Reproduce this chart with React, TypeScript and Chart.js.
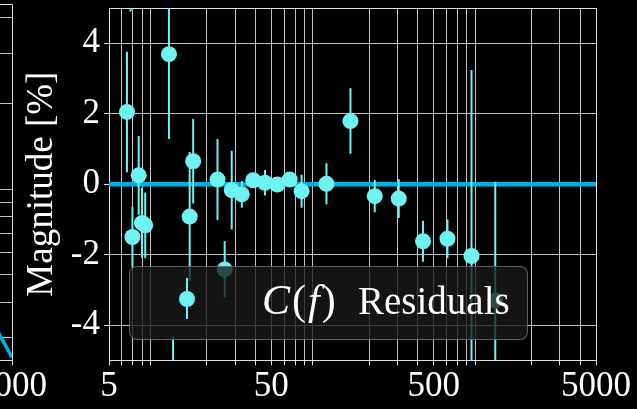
import React, { useEffect, useRef } from 'react';
import { Chart, registerables } from 'chart.js';

Chart.register(...registerables);

// ---------- data (main panel: residuals) ----------
const frequencies = [6.45, 6.78, 6.97, 7.62, 7.98, 8.36, 11.7, 12.4, 15.7, 16.5, 23.3, 25.8, 28.5, 32.9, 38.7, 45.7, 54.4, 64.9, 76.8, 109.3, 153.6, 216.8, 304.7, 430, 608, 855, 1198];
const residuals = [2.05, 5.8, -1.5, 0.25, -1.1, -1.17, 3.69, -6.2, -0.92, 0.65, 0.13, -2.42, -0.17, -0.29, 0.11, 0.04, -0.01, 0.13, -0.2, 0.01, 1.79, -0.34, -0.41, -1.62, -1.55, -2.04, -3.3];
const errors = [1.71, 0.9, 0.86, 1.12, 0.99, 0.93, 2.41, 1.87, 1.83, 1.2, 1.15, 0.8, 1.12, 0.38, 0.15, 0.36, 0.15, 0.15, 0.47, 0.58, 0.93, 0.46, 0.55, 0.58, 0.55, 5.28, 3.37];

const xTickValues = [5, 6, 7, 8, 9, 20, 30, 40, 50, 60, 70, 80, 90, 200, 300, 400, 500, 600, 700, 800, 900, 2000, 3000, 4000, 5000];
const xTickLabels = [5, 50, 500, 5000];
const yTickValues = [-5, -4, -2, 0, 2, 4, 5];
const yTickLabels = [-4, -2, 0, 2, 4];
const zeroLineX = [5, 5000];
const zeroLineY = [0, 0];

// ---------- data (neighbouring panel, only its right edge is visible) ----------
const leftFreqs = [3000, 4000, 5000];
const leftValues = [0.42, 0.323, 0.256];
const leftYTickValues = [0.25, 0.3, 0.4, 0.5, 0.6, 0.7, 0.8, 0.9, 1, 2, 3, 4, 4.46];

const FONT = "'Liberation Serif', 'Times New Roman', serif";
const POINT = '#6ef3f3';
const BLUE = '#00b2df';
const GRID = '#c2c2c2';
const EDGE = '#e2e2e2';

function errorBarData() {
  const out: { x: number; y: number | null }[] = [];
  frequencies.forEach((f, i) => {
    out.push({ x: f, y: residuals[i] - errors[i] });
    out.push({ x: f, y: residuals[i] + errors[i] });
    out.push({ x: f, y: null });
  });
  return out;
}

function xScale(showLabels: boolean) {
  return {
    type: 'logarithmic' as const,
    min: 5,
    max: 5000,
    afterBuildTicks: (s: any) => {
      s.ticks = xTickValues.map((v) => ({ value: v }));
    },
    afterFit: (s: any) => {
      s.height = 48.7;
      s.paddingLeft = 0;
      s.paddingRight = 0;
    },
    ticks: {
      autoSkip: false,
      maxRotation: 0,
      minRotation: 0,
      padding: 1,
      color: '#ffffff',
      font: { family: FONT, size: 35 },
      callback: (v: any) => (showLabels && xTickLabels.includes(Number(v)) ? String(v) : ''),
    },
    grid: {
      color: (ctx: any) => (ctx.tick && (ctx.tick.value === 5 || ctx.tick.value === 5000) ? EDGE : GRID),
      lineWidth: 1,
      tickLength: 5,
      tickColor: EDGE,
    },
    border: { color: EDGE, width: 1 },
  };
}

export default function App() {
  const mainRef = useRef<HTMLCanvasElement>(null);
  const leftRef = useRef<HTMLCanvasElement>(null);

  useEffect(() => {
    document.body.style.margin = '0';
    document.body.style.background = '#000';

    const main = new Chart(mainRef.current!, {
      type: 'scatter',
      data: {
        datasets: [
          {
            type: 'scatter',
            label: 'C(f) Residuals',
            data: frequencies.map((f, i) => ({ x: f, y: residuals[i] })),
            pointRadius: 8,
            pointHoverRadius: 8,
            backgroundColor: POINT,
            borderWidth: 0,
            order: 0,
          } as any,
          {
            type: 'line',
            label: 'errors',
            data: errorBarData(),
            showLine: true,
            spanGaps: false,
            borderColor: POINT,
            borderWidth: 2,
            pointRadius: 0,
            fill: false,
            order: 1,
          } as any,
          {
            type: 'line',
            label: 'zero',
            data: zeroLineX.map((x, i) => ({ x, y: zeroLineY[i] })),
            showLine: true,
            borderColor: BLUE,
            borderWidth: 4.5,
            pointRadius: 0,
            fill: false,
            order: 2,
          } as any,
        ],
      },
      options: {
        responsive: false,
        animation: false,
        layout: { padding: { top: 4.3, right: 41, bottom: 0, left: 0 } },
        plugins: { legend: { display: false }, tooltip: { enabled: false } },
        scales: {
          x: xScale(true) as any,
          y: {
            type: 'linear',
            min: -5,
            max: 5,
            afterBuildTicks: (s: any) => {
              s.ticks = yTickValues.map((v) => ({ value: v }));
            },
            afterFit: (s: any) => {
              s.width = 109;
              s.paddingTop = 0;
              s.paddingBottom = 0;
            },
            ticks: {
              color: '#ffffff',
              padding: 4,
              font: { family: FONT, size: 35 },
              callback: (v: any) => (yTickLabels.includes(Number(v)) ? String(v) : ''),
            },
            grid: {
              color: (ctx: any) => (ctx.tick && Math.abs(ctx.tick.value) === 5 ? EDGE : GRID),
              lineWidth: 1,
              tickLength: 5,
              tickColor: (ctx: any) => (ctx.tick && Math.abs(ctx.tick.value) === 5 ? 'rgba(0,0,0,0)' : EDGE),
            },
            border: { color: EDGE, width: 1 },
            title: {
              display: true,
              text: 'Magnitude [%]',
              color: '#ffffff',
              font: { family: FONT, size: 37 },
              padding: { top: 20, bottom: 0 },
            },
          } as any,
        },
      },
    });

    const left = new Chart(leftRef.current!, {
      type: 'line',
      data: {
        datasets: [
          {
            label: 'neighbour',
            data: leftFreqs.map((x, i) => ({ x, y: leftValues[i] })),
            borderColor: BLUE,
            borderWidth: 3.5,
            pointRadius: 0,
            fill: false,
          },
        ],
      },
      options: {
        responsive: false,
        animation: false,
        layout: { padding: { top: 4.3, right: 40, bottom: 0, left: 0 } },
        plugins: { legend: { display: false }, tooltip: { enabled: false } },
        scales: {
          x: xScale(true) as any,
          y: {
            type: 'logarithmic',
            min: 0.25,
            max: 4.46,
            afterBuildTicks: (s: any) => {
              s.ticks = leftYTickValues.map((v) => ({ value: v }));
            },
            afterFit: (s: any) => {
              s.width = 10;
              s.paddingTop = 0;
              s.paddingBottom = 0;
            },
            ticks: { display: false },
            grid: {
              color: (ctx: any) => (ctx.tick && ctx.tick.value === 4.46 ? EDGE : GRID),
              lineWidth: 1,
              drawTicks: false,
            },
            border: { color: EDGE, width: 1 },
          } as any,
        },
      },
    });

    return () => {
      main.destroy();
      left.destroy();
    };
  }, []);

  return (
    <div style={{ position: 'relative', width: 637, height: 409, background: '#000', overflow: 'hidden' }}>
      <canvas ref={leftRef} width={537} height={409} style={{ position: 'absolute', left: -485, top: 0 }} />
      <canvas ref={mainRef} width={637} height={409} style={{ position: 'absolute', left: 0, top: 0 }} />
      {/* legend */}
      <div
        style={{
          position: 'absolute',
          left: 129,
          top: 266,
          width: 399,
          height: 74,
          boxSizing: 'border-box',
          border: '1px solid rgba(120,120,120,0.75)',
          borderRadius: 8,
          background: 'rgba(26,26,26,0.78)',
        }}
      />
      <div style={{ position: 'absolute', left: 185.7, top: 278, width: 2, height: 41, background: POINT }} />
      <div style={{ position: 'absolute', left: 178.7, top: 291.3, width: 16, height: 16, borderRadius: '50%', background: POINT }} />
      <div
        style={{
          position: 'absolute',
          left: 262,
          top: 278.5,
          fontFamily: FONT,
          fontSize: 42,
          lineHeight: '42px',
          color: '#ffffff',
          whiteSpace: 'nowrap',
          letterSpacing: '2px',
        }}
      >
        <i>C</i>(<i>f</i>)
      </div>
      <div
        style={{
          position: 'absolute',
          left: 358,
          top: 280.6,
          fontFamily: FONT,
          fontSize: 39,
          lineHeight: '39px',
          color: '#ffffff',
          whiteSpace: 'nowrap',
        }}
      >
        Residuals
      </div>
    </div>
  );
}
